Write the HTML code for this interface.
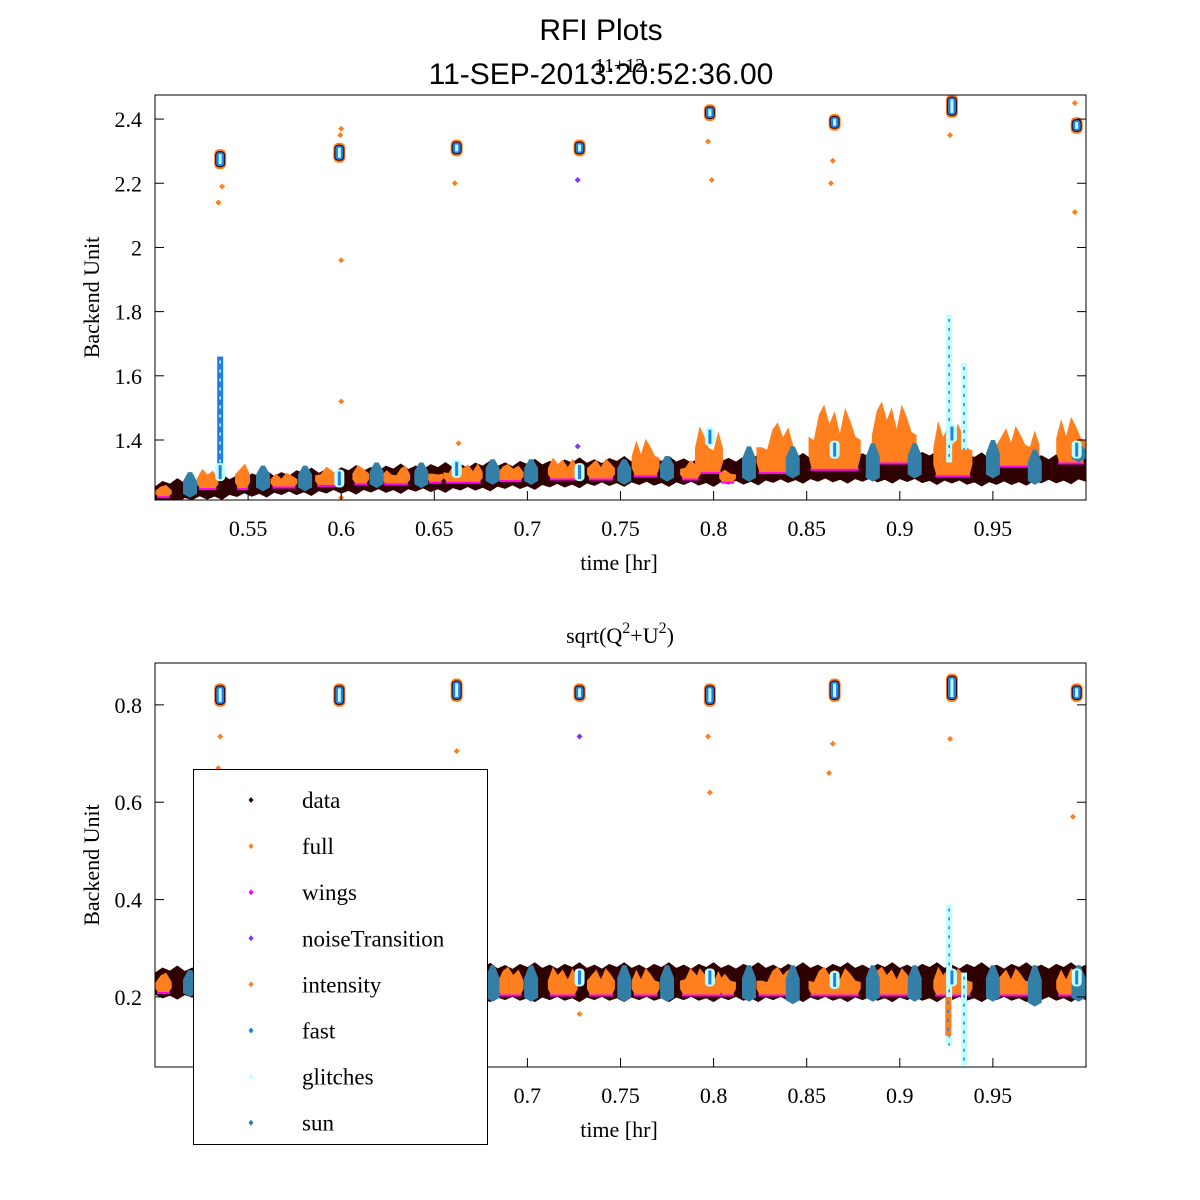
<!DOCTYPE html>
<html><head><meta charset="utf-8"><style>
html,body{margin:0;padding:0;background:#fff;}
svg{display:block;}
</style></head><body>
<svg id="chart" width="1200" height="1200" xmlns="http://www.w3.org/2000/svg">
<text x="601" y="40" font-family="Liberation Sans, sans-serif" font-size="30" text-anchor="middle">RFI Plots</text>
<text x="601" y="84" font-family="Liberation Sans, sans-serif" font-size="30" text-anchor="middle">11-SEP-2013:20:52:36.00</text>
<text x="620" y="72" font-family="Liberation Serif, serif" font-size="20" text-anchor="middle">11+12</text>
<text x="620" y="643" font-family="Liberation Serif, serif" font-size="22" text-anchor="middle">sqrt(Q<tspan dy="-10" font-size="16">2</tspan><tspan dy="10">+U</tspan><tspan dy="-10" font-size="16">2</tspan><tspan dy="10">)</tspan></text>
<g id="top"></g>
<g id="bot"></g>
<g id="legend"></g>
</svg>
<script>
const colors = {data:'#2e0000', full:'#ff7f1e', wings:'#ff00ff', noiseTransition:'#8030ff', intensity:'#ff7f1e', fast:'#1f7fe8', glitches:'#c0ffff', sun:'#337fa8'};
const legendNames = ['data','full','wings','noiseTransition','intensity','fast','glitches','sun'];

// data band knots
const bandT = [0.50,0.55,0.60,0.65,0.70,0.75,0.80,0.85,0.90,0.95,1.00];
const topBandLo = [1.215,1.235,1.245,1.25,1.26,1.27,1.27,1.28,1.28,1.27,1.28];
const topBandHi = [1.255,1.28,1.30,1.31,1.32,1.33,1.33,1.34,1.35,1.34,1.34];
const botBandLo = [0.205,0.205,0.20,0.20,0.20,0.20,0.20,0.20,0.20,0.20,0.20];
const botBandHi = [0.25,0.255,0.255,0.255,0.258,0.258,0.258,0.258,0.258,0.258,0.258];

// orange (full) segments
const fullStart = [0.500,0.5225,0.543,0.562,0.586,0.606,0.622,0.646,0.655,0.684,0.711,0.732,0.756,0.782,0.790,0.803,0.823,0.851,0.885,0.918,0.952,0.984];
const fullEnd   = [0.509,0.534,0.551,0.5765,0.598,0.615,0.637,0.655,0.676,0.698,0.727,0.747,0.771,0.793,0.805,0.812,0.843,0.879,0.909,0.939,0.975,1.000];
const topFullLo = [1.225,1.25,1.25,1.255,1.26,1.265,1.265,1.27,1.27,1.275,1.28,1.28,1.29,1.28,1.30,1.27,1.30,1.31,1.33,1.29,1.32,1.33];
const topFullHi = [1.26,1.31,1.335,1.30,1.32,1.325,1.32,1.32,1.33,1.325,1.345,1.345,1.41,1.34,1.45,1.32,1.455,1.51,1.52,1.46,1.45,1.48];
const botFullLo = [0.21,0.21,0.205,0.205,0.205,0.205,0.205,0.205,0.205,0.205,0.205,0.205,0.205,0.205,0.205,0.205,0.205,0.205,0.205,0.205,0.205,0.205];
const botFullHi = [0.25,0.255,0.26,0.26,0.26,0.26,0.26,0.26,0.262,0.262,0.262,0.262,0.262,0.262,0.262,0.262,0.262,0.262,0.262,0.262,0.262,0.262];

// sun segments
const sunT = [0.5188,0.558,0.5806,0.619,0.643,0.6813,0.702,0.752,0.775,0.819,0.8425,0.8855,0.908,0.95,0.9725,0.996];
const topSunLo = [1.22,1.24,1.24,1.25,1.25,1.26,1.26,1.26,1.27,1.27,1.28,1.27,1.28,1.28,1.26,1.33];
const topSunHi = [1.30,1.32,1.32,1.33,1.33,1.34,1.34,1.34,1.35,1.38,1.38,1.39,1.39,1.40,1.37,1.39];
const botSunLo = [0.20,0.195,0.195,0.19,0.195,0.19,0.19,0.19,0.19,0.19,0.185,0.19,0.19,0.19,0.18,0.19];
const botSunHi = [0.255,0.26,0.26,0.265,0.265,0.265,0.265,0.265,0.265,0.265,0.265,0.265,0.265,0.265,0.265,0.265];

// calibration clusters
const calT = [0.535,0.599,0.662,0.728,0.798,0.865,0.928,0.995];
const topCalLo = [2.25,2.27,2.29,2.29,2.40,2.37,2.41,2.36];
const topCalHi = [2.30,2.32,2.33,2.33,2.44,2.41,2.47,2.40];
const topCalBase = [1.30,1.28,1.31,1.30,1.41,1.37,1.42,1.37];
const botCalLo = [0.80,0.80,0.81,0.81,0.80,0.81,0.81,0.81];
const botCalHi = [0.84,0.84,0.85,0.84,0.84,0.85,0.86,0.84];
const botCalBase = [0.24,0.235,0.24,0.24,0.24,0.235,0.24,0.24];

// outliers
const topOutT = [0.534,0.536,0.600,0.600,0.600,0.600,0.661,0.663,0.797,0.799,0.863,0.864,0.927,0.994,0.994,0.727,0.727,0.5995];
const topOutV = [2.14,2.19,1.96,1.52,2.37,1.22,2.20,1.39,2.33,2.21,2.20,2.27,2.35,2.11,2.45,2.21,1.38,2.35];
const topOutS = ['full','full','full','full','full','full','full','full','full','full','full','full','full','full','full','noiseTransition','noiseTransition','full'];
const botOutT = [0.535,0.534,0.662,0.728,0.797,0.798,0.864,0.862,0.927,0.993,0.728,0.664];
const botOutV = [0.735,0.67,0.705,0.735,0.735,0.62,0.72,0.66,0.73,0.57,0.165,0.17];
const botOutS = ['full','full','full','noiseTransition','full','full','full','full','full','full','full','full'];

// spikes (glitch/fast)
const topSpikeT = [0.535,0.9265,0.9345];
const topSpikeLo = [1.30,1.33,1.37];
const topSpikeHi = [1.66,1.79,1.64];
const topSpikeS = ['fast','glitches','glitches'];
const botSpikeT = [0.9265,0.9345,0.926];
const botSpikeLo = [0.10,0.06,0.12];
const botSpikeHi = [0.39,0.25,0.20];
const botSpikeS = ['glitches','glitches','full'];

const topTicksY = [1.4,1.6,1.8,2,2.2,2.4];
const botTicksY = [0.2,0.4,0.6,0.8];
const ticksX = [0.55,0.6,0.65,0.7,0.75,0.8,0.85,0.9,0.95];

const NS='http://www.w3.org/2000/svg';
function mk(parent, tag, attrs){const e=document.createElementNS(NS,tag);for(const k in attrs)e.setAttribute(k,attrs[k]);parent.appendChild(e);return e;}
function interp(t, ts, vs){for(let i=0;i<ts.length-1;i++){if(t<=ts[i+1]){const f=(t-ts[i])/(ts[i+1]-ts[i]);return vs[i]+f*(vs[i+1]-vs[i]);}}return vs[vs.length-1];}

function panel(g, box, ymin, ymax, yTicks, bandLo, bandHi, fullLo, fullHi, sunLo, sunHi, calLo, calHi, calBase, outT, outV, outS, spT, spLo, spHi, spS){
  const X = t => box.x0 + (t-0.5)/0.5*(box.x1-box.x0);
  const Y = v => box.y1 - (v-ymin)/(ymax-ymin)*(box.y1-box.y0);
  const clip = 'clip'+box.y0;
  const cp = mk(g,'clipPath',{id:clip});
  mk(cp,'rect',{x:box.x0,y:box.y0,width:box.x1-box.x0,height:box.y1-box.y0});
  const pg = mk(g,'g',{'clip-path':'url(#'+clip+')'});
  // data band
  let up=[],dn=[];
  let k=0;
  for(let t=0.5;t<=1.0001;t+=0.004){
    const w=[0,0.012,0.004,0.016,0.002,0.01][k%6]*(ymax-ymin);
    up.push(X(t)+','+Y(interp(t,bandT,bandHi)+w));
    dn.unshift(X(t)+','+Y(interp(t,bandT,bandLo)-w*0.8));
    k++;
  }
  const band=mk(pg,'polygon',{points:up.concat(dn).join(' '),fill:colors.data});
  
  
  // wings under
  for(let i=0;i<fullStart.length;i++){
    const r=mk(pg,'rect',{x:X(fullStart[i])+2,width:X(fullEnd[i])-X(fullStart[i])-4,y:Y(fullLo[i])-1,height:3,fill:colors.wings});
    
    
  }
  // full segments
  for(let i=0;i<fullStart.length;i++){
    const x0=X(fullStart[i]),x1=X(fullEnd[i]),yt=Y(fullHi[i]),yb=Y(fullLo[i]);
    const h=yb-yt;
    const n=Math.max(3,Math.round((x1-x0)/5));
    const prof=[0.55,0.15,0.0,0.3,0.1,0.45,0.05,0.25,0.5];
    let pts=[x0+','+(yb-h*0.2)];
    for(let j=0;j<=n;j++){const xx=x0+(x1-x0)*j/n;const edge=(j===0||j===n)?0.5:0;pts.push(xx+','+(yt+h*Math.max(edge,prof[(j+i)%prof.length])));}
    pts.push(x1+','+(yb-h*0.2));
    pts.push((x1-3)+','+yb);
    pts.push((x0+3)+','+yb);
    const p=mk(pg,'polygon',{points:pts.join(' '),fill:colors.full});
    
    
  }
  // sun
  for(let i=0;i<sunT.length;i++){
    const xc=X(sunT[i]),yt=Y(sunHi[i]),yb=Y(sunLo[i]),hw=7;
    const p=mk(pg,'polygon',{points:[xc-hw,yb-4,xc-hw,yt+(yb-yt)*0.35,xc-2,yt,xc+2,yt,xc+hw,yt+(yb-yt)*0.35,xc+hw,yb-4,xc,yb].join(' '),fill:colors.sun});
    
    
  }
  // spikes
  for(let i=0;i<spT.length;i++){
    const r=mk(pg,'rect',{x:X(spT[i])-3,y:Y(spHi[i]),width:6,height:Y(spLo[i])-Y(spHi[i]),fill:colors[spS[i]]});
    
    
    mk(pg,'line',{x1:X(spT[i]),x2:X(spT[i]),y1:Y(spHi[i])+4,y2:Y(spLo[i]),stroke:spS[i]==='fast'?colors.glitches:colors.fast,'stroke-width':1.5,'stroke-dasharray':'3 6'});
  }
  // calibration clusters
  for(let i=0;i<calT.length;i++){
    const xc=X(calT[i]);
    const yt=Y(calHi[i]), yb=Y(calLo[i]);
    mk(pg,'rect',{x:xc-6,y:yt-2,width:12,height:yb-yt+4,fill:colors.full,rx:5});
    const r=mk(pg,'rect',{x:xc-5,y:yt,width:10,height:yb-yt,fill:colors.data,rx:4});
    
    
    mk(pg,'rect',{x:xc-4,y:yt+1,width:8,height:yb-yt-2,fill:colors.fast,rx:3});
    mk(pg,'rect',{x:xc-1.5,y:yt+3,width:3,height:Math.max(2,yb-yt-6),fill:colors.glitches});
    const b=mk(pg,'rect',{x:xc-5,y:Y(calBase[i])-9,width:10,height:18,fill:colors.glitches,rx:4});
    
    
    mk(pg,'rect',{x:xc-1.5,y:Y(calBase[i])-7,width:3,height:14,fill:colors.fast});
  }
  // outliers
  for(let i=0;i<outT.length;i++){
    const x=X(outT[i]),y=Y(outV[i]);
    const p=mk(pg,'polygon',{points:[x,y-3,x+3,y,x,y+3,x-3,y].join(' '),fill:colors[outS[i]]});
    
    
  }
  // frame
  const fr=mk(g,'rect',{x:box.x0,y:box.y0,width:box.x1-box.x0,height:box.y1-box.y0,fill:'none',stroke:'#000','stroke-width':1});
  
  
  yTicks.forEach(v=>{
    const y=Y(v);
    mk(g,'line',{x1:box.x0,x2:box.x0+9,y1:y,y2:y,stroke:'#000'});
    mk(g,'line',{x1:box.x1,x2:box.x1-9,y1:y,y2:y,stroke:'#000'});
    const t=mk(g,'text',{x:box.x0-13,y:y+8,'text-anchor':'end','font-family':'Liberation Serif, serif','font-size':22});
    t.textContent=String(v);
    
    
  });
  ticksX.forEach(v=>{
    const x=X(v);
    mk(g,'line',{x1:x,x2:x,y1:box.y1,y2:box.y1-9,stroke:'#000'});
    const t=mk(g,'text',{x:x,y:box.y1+36,'text-anchor':'middle','font-family':'Liberation Serif, serif','font-size':22});
    t.textContent=String(v);
    
    
  });
  const xl=mk(g,'text',{x:619,y:box.y1+70,'text-anchor':'middle','font-family':'Liberation Serif, serif','font-size':22});
  xl.textContent='time [hr]';
  
  
  const cy=(box.y0+box.y1)/2;
  const yl=mk(g,'text',{x:99,y:cy,'text-anchor':'middle','font-family':'Liberation Serif, serif','font-size':22,transform:'rotate(-90 99 '+cy+')'});
  yl.textContent='Backend Unit';
  
  
}

panel(document.getElementById('top'),{x0:155,x1:1086,y0:95,y1:500},1.213,2.475,topTicksY,topBandLo,topBandHi,topFullLo,topFullHi,topSunLo,topSunHi,topCalLo,topCalHi,topCalBase,topOutT,topOutV,topOutS,topSpikeT,topSpikeLo,topSpikeHi,topSpikeS);
panel(document.getElementById('bot'),{x0:155,x1:1086,y0:663,y1:1067},0.056,0.886,botTicksY,botBandLo,botBandHi,botFullLo,botFullHi,botSunLo,botSunHi,botCalLo,botCalHi,botCalBase,botOutT,botOutV,botOutS,botSpikeT,botSpikeLo,botSpikeHi,botSpikeS);

const lg=document.getElementById('legend');
const lb=mk(lg,'rect',{x:193.5,y:769.5,width:294,height:375,fill:'#fff',stroke:'#000'});


legendNames.forEach((n,i)=>{
  const y=800+i*46.1;
  const g=mk(lg,'g',{});
  
  
  mk(g,'polygon',{points:[251,y-3,253.5,y,251,y+3,248.5,y].join(' '),fill:colors[n]});
  const t=mk(g,'text',{x:302,y:y+8,'font-family':'Liberation Serif, serif','font-size':23});
  t.textContent=n;
});
</script>
</body></html>
